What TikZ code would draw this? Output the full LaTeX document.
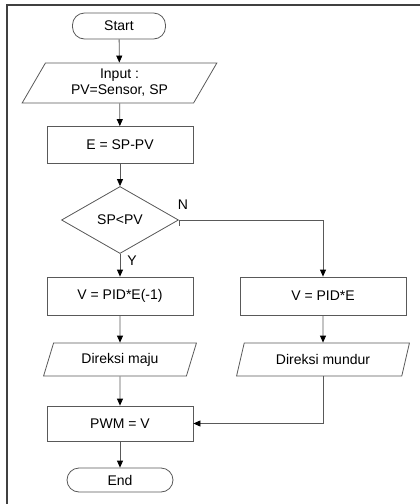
\documentclass[tikz,border=0pt]{standalone}
\usepackage{fontspec}
\setmainfont{Liberation Sans}
\usetikzlibrary{arrows.meta,shapes.geometric}

\begin{document}
\begin{tikzpicture}[x=1pt, y=-1pt,
        % Styles
        box/.style={draw=black!65, line width=0.8pt, inner sep=0pt,
            font=\fontsize{14}{16}\selectfont, align=center},
        terminal/.style={box, rectangle, rounded corners=12pt, minimum height=26},
        process/.style={box, rectangle, minimum width=146, minimum height=37},
        io/.style={box, trapezium, trapezium stretches=true,
            trapezium left angle=66, trapezium right angle=114, minimum height=33},
        decision/.style={box, diamond, minimum width=117, minimum height=67},
        tag/.style={font=\fontsize{14}{16}\selectfont, inner sep=0pt},
        line/.style={draw=black!65, line width=0.8pt},
        arrow/.style={line, -{Triangle[width=6pt, length=7pt, black]}},
    ]
    \useasboundingbox (0,0) rectangle (420,504);

    % frame
    \draw[draw=black!75, line width=1.2pt] (420,5) -- (7,5) -- (7,504);

    % nodes
    \node[terminal, minimum width=93] (start) at (119,26) {Start};
    \node[io, minimum width=195, minimum height=40, trapezium left angle=61,
        trapezium right angle=119] (input) at (119.5,83) {Input :\\PV=Sensor, SP};
    \node[process] (err) at (120,145) {E = SP-PV};
    \node[decision] (cmp) at (120,220) {SP<PV};
    \node[process, minimum height=38] (vneg) at (120,296) {V = PID*E(-1)};
    \node[process, minimum width=166, minimum height=38] (vpos) at (323,296) {V = PID*E};
    \node[io, minimum width=154] (maju) at (120,359.5) {Direksi maju};
    \node[io, minimum width=173] (mundur) at (323,359.5) {Direksi mundur};
    \node[process, minimum height=35] (pwm) at (120,423.5) {PWM = V};
    \node[terminal, minimum width=106, minimum height=24] (stop) at (120,480) {End};

    % labels
    \node[tag] (no) at (183,205) {N};
    \node[tag] (yes) at (132,261) {Y};

    % connectors
    \draw[arrow] (start) -- (input);
    \draw[arrow] (input) -- (err);
    \draw[arrow] (err) -- (cmp);
    \draw[arrow] (cmp) -- (vneg);
    \draw[line] (cmp.east) -- ++(0,6);
    \draw[arrow] (cmp.east) -| (vpos.north);
    \draw[arrow] (vneg) -- (maju);
    \draw[arrow] (vpos) -- (mundur);
    \draw[arrow] (maju) -- (pwm);
    \draw[arrow] (mundur.south) |- (pwm.east);
    \draw[arrow] (pwm) -- (stop);
\end{tikzpicture}
\end{document}
